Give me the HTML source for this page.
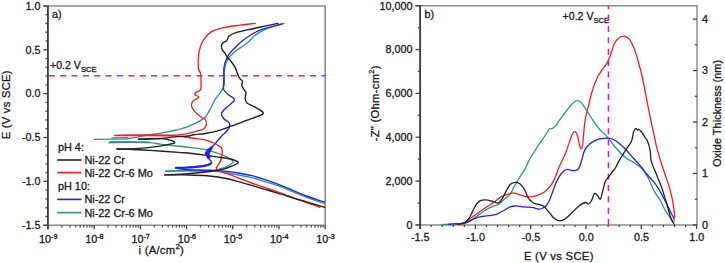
<!DOCTYPE html>
<html><head><meta charset="utf-8"><title>Polarization and impedance plots</title>
<style>
html,body{margin:0;padding:0;background:#fff;}
body{width:725px;height:263px;overflow:hidden;}
svg{display:block;}
svg text{font-family:"Liberation Sans", sans-serif;fill:#1a1a1a;stroke:#1a1a1a;stroke-width:0.3px;}
</style></head>
<body>
<svg width="725" height="263" viewBox="0 0 725 263">
<rect width="725" height="263" fill="#fff"/>
<line x1="43.30" y1="5.90" x2="325.70" y2="5.90" stroke="#8c8c8c" stroke-width="1.5" />
<line x1="325.20" y1="5.90" x2="325.20" y2="225.28" stroke="#8c8c8c" stroke-width="1.6" />
<line x1="43.30" y1="225.28" x2="325.70" y2="225.28" stroke="#8c8c8c" stroke-width="1.5" />
<line x1="43.30" y1="225.28" x2="47.90" y2="225.28" stroke="#404040" stroke-width="1.3" />
<line x1="45.60" y1="216.50" x2="47.90" y2="216.50" stroke="#404040" stroke-width="1.3" />
<line x1="45.60" y1="207.73" x2="47.90" y2="207.73" stroke="#404040" stroke-width="1.3" />
<line x1="45.60" y1="198.95" x2="47.90" y2="198.95" stroke="#404040" stroke-width="1.3" />
<line x1="45.60" y1="190.18" x2="47.90" y2="190.18" stroke="#404040" stroke-width="1.3" />
<line x1="43.30" y1="181.40" x2="47.90" y2="181.40" stroke="#404040" stroke-width="1.3" />
<line x1="45.60" y1="172.62" x2="47.90" y2="172.62" stroke="#404040" stroke-width="1.3" />
<line x1="45.60" y1="163.85" x2="47.90" y2="163.85" stroke="#404040" stroke-width="1.3" />
<line x1="45.60" y1="155.07" x2="47.90" y2="155.07" stroke="#404040" stroke-width="1.3" />
<line x1="45.60" y1="146.30" x2="47.90" y2="146.30" stroke="#404040" stroke-width="1.3" />
<line x1="43.30" y1="137.53" x2="47.90" y2="137.53" stroke="#404040" stroke-width="1.3" />
<line x1="45.60" y1="128.75" x2="47.90" y2="128.75" stroke="#404040" stroke-width="1.3" />
<line x1="45.60" y1="119.98" x2="47.90" y2="119.98" stroke="#404040" stroke-width="1.3" />
<line x1="45.60" y1="111.20" x2="47.90" y2="111.20" stroke="#404040" stroke-width="1.3" />
<line x1="45.60" y1="102.43" x2="47.90" y2="102.43" stroke="#404040" stroke-width="1.3" />
<line x1="43.30" y1="93.65" x2="47.90" y2="93.65" stroke="#404040" stroke-width="1.3" />
<line x1="45.60" y1="84.88" x2="47.90" y2="84.88" stroke="#404040" stroke-width="1.3" />
<line x1="45.60" y1="76.10" x2="47.90" y2="76.10" stroke="#404040" stroke-width="1.3" />
<line x1="45.60" y1="67.33" x2="47.90" y2="67.33" stroke="#404040" stroke-width="1.3" />
<line x1="45.60" y1="58.55" x2="47.90" y2="58.55" stroke="#404040" stroke-width="1.3" />
<line x1="43.30" y1="49.78" x2="47.90" y2="49.78" stroke="#404040" stroke-width="1.3" />
<line x1="45.60" y1="41.00" x2="47.90" y2="41.00" stroke="#404040" stroke-width="1.3" />
<line x1="45.60" y1="32.23" x2="47.90" y2="32.23" stroke="#404040" stroke-width="1.3" />
<line x1="45.60" y1="23.45" x2="47.90" y2="23.45" stroke="#404040" stroke-width="1.3" />
<line x1="45.60" y1="14.67" x2="47.90" y2="14.67" stroke="#404040" stroke-width="1.3" />
<line x1="43.30" y1="5.90" x2="47.90" y2="5.90" stroke="#404040" stroke-width="1.3" />
<line x1="47.90" y1="225.28" x2="47.90" y2="229.28" stroke="#404040" stroke-width="1.3" />
<line x1="61.81" y1="225.28" x2="61.81" y2="227.47" stroke="#404040" stroke-width="1.2" />
<line x1="69.95" y1="225.28" x2="69.95" y2="227.47" stroke="#404040" stroke-width="1.2" />
<line x1="75.73" y1="225.28" x2="75.73" y2="227.47" stroke="#404040" stroke-width="1.2" />
<line x1="80.20" y1="225.28" x2="80.20" y2="227.47" stroke="#404040" stroke-width="1.2" />
<line x1="83.86" y1="225.28" x2="83.86" y2="227.47" stroke="#404040" stroke-width="1.2" />
<line x1="86.96" y1="225.28" x2="86.96" y2="227.47" stroke="#404040" stroke-width="1.2" />
<line x1="89.64" y1="225.28" x2="89.64" y2="227.47" stroke="#404040" stroke-width="1.2" />
<line x1="92.00" y1="225.28" x2="92.00" y2="227.47" stroke="#404040" stroke-width="1.2" />
<line x1="94.12" y1="225.28" x2="94.12" y2="229.28" stroke="#404040" stroke-width="1.3" />
<line x1="108.03" y1="225.28" x2="108.03" y2="227.47" stroke="#404040" stroke-width="1.2" />
<line x1="116.17" y1="225.28" x2="116.17" y2="227.47" stroke="#404040" stroke-width="1.2" />
<line x1="121.94" y1="225.28" x2="121.94" y2="227.47" stroke="#404040" stroke-width="1.2" />
<line x1="126.42" y1="225.28" x2="126.42" y2="227.47" stroke="#404040" stroke-width="1.2" />
<line x1="130.08" y1="225.28" x2="130.08" y2="227.47" stroke="#404040" stroke-width="1.2" />
<line x1="133.17" y1="225.28" x2="133.17" y2="227.47" stroke="#404040" stroke-width="1.2" />
<line x1="135.85" y1="225.28" x2="135.85" y2="227.47" stroke="#404040" stroke-width="1.2" />
<line x1="138.22" y1="225.28" x2="138.22" y2="227.47" stroke="#404040" stroke-width="1.2" />
<line x1="140.33" y1="225.28" x2="140.33" y2="229.28" stroke="#404040" stroke-width="1.3" />
<line x1="154.25" y1="225.28" x2="154.25" y2="227.47" stroke="#404040" stroke-width="1.2" />
<line x1="162.38" y1="225.28" x2="162.38" y2="227.47" stroke="#404040" stroke-width="1.2" />
<line x1="168.16" y1="225.28" x2="168.16" y2="227.47" stroke="#404040" stroke-width="1.2" />
<line x1="172.64" y1="225.28" x2="172.64" y2="227.47" stroke="#404040" stroke-width="1.2" />
<line x1="176.30" y1="225.28" x2="176.30" y2="227.47" stroke="#404040" stroke-width="1.2" />
<line x1="179.39" y1="225.28" x2="179.39" y2="227.47" stroke="#404040" stroke-width="1.2" />
<line x1="182.07" y1="225.28" x2="182.07" y2="227.47" stroke="#404040" stroke-width="1.2" />
<line x1="184.44" y1="225.28" x2="184.44" y2="227.47" stroke="#404040" stroke-width="1.2" />
<line x1="186.55" y1="225.28" x2="186.55" y2="229.28" stroke="#404040" stroke-width="1.3" />
<line x1="200.46" y1="225.28" x2="200.46" y2="227.47" stroke="#404040" stroke-width="1.2" />
<line x1="208.60" y1="225.28" x2="208.60" y2="227.47" stroke="#404040" stroke-width="1.2" />
<line x1="214.38" y1="225.28" x2="214.38" y2="227.47" stroke="#404040" stroke-width="1.2" />
<line x1="218.85" y1="225.28" x2="218.85" y2="227.47" stroke="#404040" stroke-width="1.2" />
<line x1="222.51" y1="225.28" x2="222.51" y2="227.47" stroke="#404040" stroke-width="1.2" />
<line x1="225.61" y1="225.28" x2="225.61" y2="227.47" stroke="#404040" stroke-width="1.2" />
<line x1="228.29" y1="225.28" x2="228.29" y2="227.47" stroke="#404040" stroke-width="1.2" />
<line x1="230.65" y1="225.28" x2="230.65" y2="227.47" stroke="#404040" stroke-width="1.2" />
<line x1="232.77" y1="225.28" x2="232.77" y2="229.28" stroke="#404040" stroke-width="1.3" />
<line x1="246.68" y1="225.28" x2="246.68" y2="227.47" stroke="#404040" stroke-width="1.2" />
<line x1="254.82" y1="225.28" x2="254.82" y2="227.47" stroke="#404040" stroke-width="1.2" />
<line x1="260.59" y1="225.28" x2="260.59" y2="227.47" stroke="#404040" stroke-width="1.2" />
<line x1="265.07" y1="225.28" x2="265.07" y2="227.47" stroke="#404040" stroke-width="1.2" />
<line x1="268.73" y1="225.28" x2="268.73" y2="227.47" stroke="#404040" stroke-width="1.2" />
<line x1="271.82" y1="225.28" x2="271.82" y2="227.47" stroke="#404040" stroke-width="1.2" />
<line x1="274.50" y1="225.28" x2="274.50" y2="227.47" stroke="#404040" stroke-width="1.2" />
<line x1="276.87" y1="225.28" x2="276.87" y2="227.47" stroke="#404040" stroke-width="1.2" />
<line x1="278.98" y1="225.28" x2="278.98" y2="229.28" stroke="#404040" stroke-width="1.3" />
<line x1="292.90" y1="225.28" x2="292.90" y2="227.47" stroke="#404040" stroke-width="1.2" />
<line x1="301.03" y1="225.28" x2="301.03" y2="227.47" stroke="#404040" stroke-width="1.2" />
<line x1="306.81" y1="225.28" x2="306.81" y2="227.47" stroke="#404040" stroke-width="1.2" />
<line x1="311.29" y1="225.28" x2="311.29" y2="227.47" stroke="#404040" stroke-width="1.2" />
<line x1="314.95" y1="225.28" x2="314.95" y2="227.47" stroke="#404040" stroke-width="1.2" />
<line x1="318.04" y1="225.28" x2="318.04" y2="227.47" stroke="#404040" stroke-width="1.2" />
<line x1="320.72" y1="225.28" x2="320.72" y2="227.47" stroke="#404040" stroke-width="1.2" />
<line x1="323.09" y1="225.28" x2="323.09" y2="227.47" stroke="#404040" stroke-width="1.2" />
<line x1="325.20" y1="225.28" x2="325.20" y2="229.28" stroke="#404040" stroke-width="1.3" />
<line x1="47.90" y1="5.20" x2="47.90" y2="229.28" stroke="#404040" stroke-width="1.9" />
<text x="40.60" y="9.70" font-size="10.8" text-anchor="end" >1.0</text>
<text x="40.60" y="53.58" font-size="10.8" text-anchor="end" >0.5</text>
<text x="40.60" y="97.45" font-size="10.8" text-anchor="end" >0.0</text>
<text x="40.60" y="141.33" font-size="10.8" text-anchor="end" >-0.5</text>
<text x="40.60" y="185.20" font-size="10.8" text-anchor="end" >-1.0</text>
<text x="40.60" y="229.08" font-size="10.8" text-anchor="end" >-1.5</text>
<text x="48.20" y="243.3" font-size="10.8" text-anchor="middle">10<tspan font-size="7.2" dy="-4.2">-9</tspan></text>
<text x="94.42" y="243.3" font-size="10.8" text-anchor="middle">10<tspan font-size="7.2" dy="-4.2">-8</tspan></text>
<text x="140.63" y="243.3" font-size="10.8" text-anchor="middle">10<tspan font-size="7.2" dy="-4.2">-7</tspan></text>
<text x="186.85" y="243.3" font-size="10.8" text-anchor="middle">10<tspan font-size="7.2" dy="-4.2">-6</tspan></text>
<text x="233.07" y="243.3" font-size="10.8" text-anchor="middle">10<tspan font-size="7.2" dy="-4.2">-5</tspan></text>
<text x="279.28" y="243.3" font-size="10.8" text-anchor="middle">10<tspan font-size="7.2" dy="-4.2">-4</tspan></text>
<text x="325.50" y="243.3" font-size="10.8" text-anchor="middle">10<tspan font-size="7.2" dy="-4.2">-3</tspan></text>
<text x="161.3" y="254.2" font-size="11.3" letter-spacing="0.25" text-anchor="middle">i (A/cm<tspan font-size="8" dy="-5.3">2</tspan><tspan dy="5.3">)</tspan></text>
<text transform="translate(9.5,104.8) rotate(-90)" font-size="11.2" letter-spacing="0.27" text-anchor="middle">E (V vs SCE)</text>
<text x="52.00" y="17.60" font-size="10.8" text-anchor="start" >a)</text>
<text x="50.0" y="68.9" font-size="10.6">+0.2 V<tspan font-size="7.6" dy="3.3">SCE</tspan></text>
<line x1="48.8" y1="75.7" x2="325.20" y2="75.7" stroke="#ff00ff" stroke-width="1.5" stroke-dasharray="6 5.36"/>
<text x="57.90" y="151.20" font-size="10.9" text-anchor="start" >pH 4:</text>
<text x="84.40" y="164.00" font-size="10.9" text-anchor="start" >Ni-22 Cr</text>
<line x1="57.20" y1="160.00" x2="81.50" y2="160.00" stroke="#202020" stroke-width="1.6" />
<text x="84.40" y="176.60" font-size="10.9" text-anchor="start" >Ni-22 Cr-6 Mo</text>
<line x1="57.20" y1="172.60" x2="81.50" y2="172.60" stroke="#ff1a1a" stroke-width="1.6" />
<text x="57.90" y="190.40" font-size="10.9" text-anchor="start" >pH 10:</text>
<text x="84.40" y="203.40" font-size="10.9" text-anchor="start" >Ni-22 Cr</text>
<line x1="57.20" y1="199.40" x2="81.50" y2="199.40" stroke="#1f1fff" stroke-width="1.6" />
<text x="84.40" y="216.60" font-size="10.9" text-anchor="start" >Ni-22 Cr-6 Mo</text>
<line x1="57.20" y1="212.60" x2="81.50" y2="212.60" stroke="#2e9490" stroke-width="1.6" />
<path d="M324.5,203.9 C323.7,203.6 322.9,203.0 319.9,201.9 C316.9,200.8 311.0,199.0 306.6,197.3 C302.2,195.7 296.9,193.5 293.3,192.0 C289.7,190.5 287.5,189.5 285.0,188.4 C282.5,187.3 281.6,186.7 278.2,185.6 C274.8,184.5 269.3,182.9 264.9,181.6 C260.5,180.3 256.0,178.7 251.6,177.6 C247.2,176.5 242.7,175.8 238.3,175.0 C233.9,174.2 229.1,173.1 225.0,172.5 C220.9,171.9 220.1,171.6 213.9,171.3 C207.7,171.0 195.7,170.8 187.6,170.8 C179.5,170.8 169.2,171.2 165.5,171.3" fill="none" stroke="#2e9490" stroke-width="1.35" stroke-linejoin="round" stroke-linecap="round"/>
<path d="M165.5,171.1 C169.2,171.0 180.5,170.7 187.6,170.6 C194.7,170.5 203.7,170.4 208.3,170.3 C212.9,170.2 212.2,170.7 215.2,170.1 C218.2,169.5 223.4,168.0 226.2,166.9 C228.9,165.8 230.5,164.5 231.7,163.5 C232.8,162.5 233.5,161.9 233.1,161.0 C232.7,160.1 230.2,159.1 229.0,158.3 C227.8,157.5 228.0,157.2 225.9,156.3 C223.8,155.4 220.1,154.0 216.6,152.9 C213.1,151.8 209.4,150.5 205.0,149.6 C200.6,148.7 197.2,148.3 190.0,147.4 C182.8,146.5 168.7,145.2 162.0,144.4 C155.3,143.6 156.3,143.0 150.0,142.7 C143.7,142.3 131.1,142.3 124.2,142.3 C117.3,142.3 111.4,142.8 108.8,142.9" fill="none" stroke="#2e9490" stroke-width="1.35" stroke-linejoin="round" stroke-linecap="round"/>
<path d="M94.3,139.3 C97.4,139.3 107.2,139.3 112.8,139.2 C118.3,139.1 122.2,139.4 127.6,138.8 C133.0,138.2 141.3,136.2 145.0,135.5 C148.7,134.8 146.2,135.4 150.0,134.8 C153.8,134.2 162.4,132.9 167.8,131.8 C173.2,130.7 178.6,129.6 182.6,128.4 C186.6,127.2 189.1,126.1 191.9,124.9 C194.7,123.7 197.3,122.4 199.5,121.1 C201.7,119.8 203.4,119.2 205.2,117.3 C206.9,115.4 208.4,112.5 210.0,109.7 C211.6,106.9 213.0,103.1 214.7,100.2 C216.4,97.3 219.0,94.6 220.4,92.6 C221.8,90.5 222.7,89.2 223.3,87.9 C223.9,86.6 224.0,86.2 224.2,85.0 C224.4,83.8 224.3,82.8 224.3,80.5 C224.3,78.2 224.1,74.1 224.3,71.3 C224.6,68.5 225.2,65.6 225.8,63.7 C226.4,61.8 227.1,61.1 227.6,60.0 C228.1,58.9 228.1,58.5 229.1,57.3 C230.1,56.1 231.9,54.2 233.7,52.7 C235.5,51.2 237.5,49.8 239.8,48.1 C242.1,46.5 245.1,44.7 247.4,42.8 C249.7,40.9 251.4,38.5 253.5,36.7 C255.6,34.9 257.2,33.8 260.0,32.2 C262.8,30.6 266.5,28.7 270.5,27.2 C274.5,25.7 281.9,24.0 284.2,23.4" fill="none" stroke="#2e9490" stroke-width="1.35" stroke-linejoin="round" stroke-linecap="round"/>
<path d="M324.5,201.9 C323.7,201.7 322.9,201.6 319.9,200.6 C316.9,199.6 311.0,197.7 306.6,196.0 C302.2,194.3 296.9,192.1 293.3,190.6 C289.7,189.1 287.5,188.1 285.0,187.0 C282.5,185.9 281.6,185.5 278.2,184.3 C274.8,183.1 269.3,181.1 264.9,179.6 C260.5,178.1 256.0,176.7 251.6,175.6 C247.2,174.5 242.7,173.8 238.3,173.0 C233.9,172.2 229.1,171.5 225.0,171.1 C220.9,170.7 219.2,170.7 213.9,170.5 C208.6,170.3 197.8,170.1 193.1,169.9 C188.4,169.7 188.5,169.7 186.0,169.5 C183.5,169.3 179.7,168.8 178.0,168.5 C176.3,168.2 176.1,167.9 175.7,167.8" fill="none" stroke="#1f1fff" stroke-width="1.35" stroke-linejoin="round" stroke-linecap="round"/>
<path d="M175.7,167.8 C177.7,167.8 183.3,167.8 187.6,167.5 C191.9,167.2 197.9,166.6 201.4,166.2 C204.9,165.8 206.6,165.3 208.3,164.8 C210.0,164.3 211.1,163.7 211.5,163.0 C211.9,162.3 211.0,161.3 210.5,160.5 C210.0,159.7 209.3,159.5 208.6,158.3 C207.8,157.2 206.0,155.1 206.0,153.6 C206.0,152.1 207.3,151.0 208.6,149.6 C209.9,148.2 212.3,146.6 213.9,145.0 C215.5,143.4 216.5,142.0 217.9,140.3 C219.3,138.6 221.3,136.3 222.6,135.0 C223.9,133.7 224.4,133.8 225.5,132.5 C226.6,131.2 228.6,129.1 229.2,127.5 C229.8,125.9 230.1,124.5 229.2,123.0 C228.3,121.5 225.2,120.4 223.9,118.8 C222.6,117.2 221.1,115.3 221.5,113.5 C221.9,111.7 224.1,109.8 226.1,107.8 C228.1,105.8 232.4,102.8 233.7,101.2 C235.0,99.6 234.6,99.4 233.7,98.3 C232.8,97.2 229.7,95.9 228.0,94.5 C226.3,93.1 224.6,91.4 223.8,89.8 C223.1,88.2 223.5,86.5 223.5,85.0 C223.5,83.5 223.8,83.0 223.8,80.5 C223.9,78.0 223.7,72.5 223.8,69.8 C224.0,67.0 224.3,65.6 224.7,64.0 C225.1,62.4 225.4,61.6 226.1,60.0 C226.8,58.4 227.6,56.3 229.1,54.2 C230.6,52.1 232.9,49.7 235.2,47.4 C237.5,45.1 240.3,42.5 242.8,40.5 C245.3,38.5 248.2,36.6 250.4,35.2 C252.6,33.8 253.9,33.0 256.0,32.0 C258.1,31.0 258.5,30.5 262.8,29.2 C267.1,27.9 278.7,24.9 281.9,24.0" fill="none" stroke="#1f1fff" stroke-width="1.35" stroke-linejoin="round" stroke-linecap="round"/>
<path d="M319.9,207.3 C317.7,206.5 311.0,204.2 306.6,202.6 C302.2,201.0 296.9,198.9 293.3,197.6 C289.7,196.3 287.5,195.5 285.0,194.6 C282.5,193.7 281.6,193.4 278.2,192.2 C274.8,191.0 269.3,189.1 264.9,187.6 C260.5,186.1 256.0,184.6 251.6,183.0 C247.2,181.4 242.1,179.2 238.3,177.8 C234.5,176.4 231.7,175.3 229.0,174.4 C226.3,173.5 223.9,172.9 222.0,172.2 C220.1,171.5 218.4,170.9 217.5,170.2 C216.6,169.5 216.0,168.9 216.3,167.8 C216.6,166.7 218.5,164.8 219.3,163.4 C220.1,162.0 220.5,161.3 221.0,159.5 C221.5,157.7 222.1,154.4 222.2,152.5 C222.3,150.6 222.0,149.0 221.6,148.0 C221.2,147.0 221.2,147.3 219.9,146.5 C218.6,145.7 216.4,144.1 213.9,143.0 C211.4,141.9 207.9,140.5 205.0,139.8 C202.1,139.1 199.7,139.2 196.3,138.7 C193.0,138.2 188.7,137.5 184.9,137.0 C181.1,136.5 180.2,136.1 173.5,135.8 C166.8,135.6 154.8,135.5 145.0,135.5 C135.2,135.5 119.9,135.6 114.9,135.6" fill="none" stroke="#ff1a1a" stroke-width="1.35" stroke-linejoin="round" stroke-linecap="round"/>
<path d="M114.9,135.4 C119.9,135.3 135.2,135.0 145.0,135.0 C154.8,135.0 166.8,135.3 173.5,135.2 C180.2,135.0 181.1,134.8 184.9,134.1 C188.7,133.4 193.1,132.2 196.3,131.3 C199.5,130.4 202.4,129.9 204.1,128.7 C205.8,127.5 206.3,125.8 206.4,124.1 C206.5,122.4 205.7,119.9 204.9,118.8 C204.1,117.7 203.1,118.5 201.4,117.3 C199.7,116.1 196.5,113.5 194.8,111.6 C193.2,109.7 191.8,107.6 191.5,105.9 C191.2,104.2 191.9,102.5 192.9,101.2 C193.9,99.9 196.7,99.0 197.6,98.3 C198.5,97.6 199.1,97.4 198.6,96.8 C198.1,96.2 195.3,95.2 194.8,94.5 C194.3,93.8 194.8,93.4 195.7,92.6 C196.6,91.8 199.6,91.1 200.5,89.8 C201.4,88.5 200.9,86.6 201.0,85.0 C201.1,83.4 201.1,81.9 201.0,80.0 C200.9,78.1 201.1,75.5 200.7,73.6 C200.3,71.6 198.8,71.4 198.4,68.3 C198.1,65.2 198.2,58.6 198.6,55.0 C198.9,51.4 199.6,49.1 200.5,46.4 C201.4,43.7 202.6,41.2 204.3,38.8 C206.0,36.4 207.9,33.9 210.9,32.1 C213.9,30.3 217.9,29.0 222.3,27.9 C226.7,26.8 234.6,25.9 237.5,25.5 C240.4,25.1 237.1,25.6 240.0,25.2 C242.9,24.8 252.7,23.6 255.2,23.3" fill="none" stroke="#ff1a1a" stroke-width="1.35" stroke-linejoin="round" stroke-linecap="round"/>
<path d="M324.5,207.3 C323.7,207.1 322.9,206.8 319.9,205.9 C316.9,205.0 311.0,203.2 306.6,201.9 C302.2,200.6 296.9,199.3 293.3,198.2 C289.7,197.1 287.5,196.1 285.0,195.3 C282.5,194.5 281.6,194.3 278.2,193.3 C274.8,192.3 269.3,190.6 264.9,189.3 C260.5,188.0 256.0,186.7 251.6,185.4 C247.2,184.1 242.7,182.8 238.3,181.6 C233.9,180.4 230.2,179.3 225.0,178.3 C219.8,177.3 213.8,176.4 206.9,175.8 C200.0,175.2 190.4,175.1 183.4,174.9 C176.4,174.8 167.8,174.9 164.7,174.9" fill="none" stroke="#202020" stroke-width="1.4" stroke-linejoin="round" stroke-linecap="round"/>
<path d="M164.8,174.9 C168.6,174.7 180.0,174.4 187.6,173.8 C195.2,173.2 204.4,172.2 210.2,171.5 C216.0,170.8 218.6,170.4 222.4,169.4 C226.2,168.4 230.5,166.7 233.1,165.6 C235.7,164.5 237.7,163.8 238.2,163.0 C238.7,162.2 237.5,161.5 236.0,160.8 C234.5,160.1 232.2,159.5 229.0,158.8 C225.8,158.2 220.9,157.6 216.6,156.9 C212.3,156.2 207.7,155.5 203.3,154.9 C198.9,154.3 194.1,153.6 190.0,153.2 C185.9,152.8 185.2,152.9 178.5,152.4 C171.8,151.9 158.1,150.9 150.0,150.4 C141.9,149.9 135.5,149.5 130.0,149.3 C124.5,149.1 119.2,149.1 117.0,149.0" fill="none" stroke="#202020" stroke-width="1.4" stroke-linejoin="round" stroke-linecap="round"/>
<path d="M117.0,149.0 C120.0,148.9 128.4,149.0 135.0,148.6 C141.6,148.2 150.9,147.3 156.4,146.6 C161.9,145.9 164.8,145.2 167.8,144.6 C170.9,143.9 174.1,143.4 174.7,142.7 C175.3,142.0 173.3,141.1 171.2,140.4 C169.1,139.7 165.6,138.9 162.1,138.6 C158.6,138.3 153.9,138.6 150.0,138.7 C146.1,138.8 140.4,139.2 138.5,139.3" fill="none" stroke="#202020" stroke-width="1.4" stroke-linejoin="round" stroke-linecap="round"/>
<path d="M138.5,139.3 C140.4,139.2 146.1,139.1 150.0,138.9 C153.9,138.8 157.9,138.7 162.0,138.4 C166.1,138.1 170.3,137.3 174.7,136.9 C179.1,136.5 185.1,136.3 188.3,136.0 C191.5,135.7 191.0,135.2 193.8,134.8 C196.6,134.4 201.1,134.2 205.2,133.5 C209.3,132.8 214.1,131.9 218.5,130.6 C222.9,129.3 227.1,127.6 231.8,125.9 C236.6,124.2 242.2,122.0 247.0,120.2 C251.8,118.5 257.6,116.5 260.3,115.4 C263.0,114.3 262.9,114.1 263.2,113.5 C263.5,112.9 263.6,112.7 262.2,111.6 C260.8,110.5 257.1,108.3 254.6,106.9 C252.1,105.5 248.6,104.4 247.0,103.0 C245.4,101.6 245.3,100.0 245.2,98.3 C245.0,96.6 246.3,94.0 246.1,92.6 C245.9,91.2 244.9,91.0 244.2,89.8 C243.5,88.6 242.1,86.9 241.8,85.5 C241.5,84.1 242.9,82.4 242.5,81.2 C242.1,80.0 240.4,79.6 239.5,78.2 C238.6,76.8 238.0,74.7 237.2,72.8 C236.4,70.9 235.9,68.7 234.9,66.8 C233.9,64.9 232.2,62.9 231.1,61.5 C230.0,60.1 229.1,59.3 228.4,58.5 C227.7,57.7 227.4,57.5 226.8,56.5 C226.2,55.5 225.3,53.8 224.6,52.7 C223.8,51.6 222.8,50.8 222.3,49.7 C221.8,48.6 221.4,47.0 221.5,45.9 C221.6,44.8 222.2,43.6 223.0,42.8 C223.8,42.0 225.3,41.9 226.1,41.3 C226.9,40.7 227.1,39.9 227.6,39.0 C228.1,38.1 227.8,37.0 229.1,36.0 C230.4,35.0 232.1,33.9 235.2,32.9 C238.2,31.9 243.6,30.8 247.4,29.9 C251.2,29.0 253.2,28.6 258.3,27.5 C263.4,26.4 274.6,24.1 277.8,23.4" fill="none" stroke="#202020" stroke-width="1.4" stroke-linejoin="round" stroke-linecap="round"/>
<polyline points="110.0,141.6 128.0,141.7 150.0,142.1" fill="none" stroke="#2e9490" stroke-width="1.2" stroke-linejoin="round" stroke-linecap="round"/>
<polyline points="112.0,137.9 128.0,137.6" fill="none" stroke="#2e9490" stroke-width="1.2" stroke-linejoin="round" stroke-linecap="round"/>
<path d="M214,145 L207,149.2 L204.6,153.5 L207.5,158.8 L210.8,158 L209.6,153.5 L212,149.5 Z" fill="#1f1fff"/>
<path d="M176.0,167.9 C177.9,167.8 183.4,167.8 187.6,167.5 C191.8,167.2 197.9,166.7 201.4,166.3 C204.9,165.9 206.7,165.4 208.3,164.9 C210.0,164.4 210.8,163.4 211.3,163.1" fill="none" stroke="#1f1fff" stroke-width="2.2" stroke-linejoin="round" stroke-linecap="round"/>
<line x1="415.50" y1="5.70" x2="697.50" y2="5.70" stroke="#8c8c8c" stroke-width="1.5" />
<line x1="697.00" y1="5.70" x2="697.00" y2="224.90" stroke="#8c8c8c" stroke-width="1.45" />
<line x1="415.50" y1="224.90" x2="697.50" y2="224.90" stroke="#8c8c8c" stroke-width="1.5" />
<line x1="415.50" y1="224.90" x2="420.10" y2="224.90" stroke="#404040" stroke-width="1.3" />
<line x1="417.80" y1="202.98" x2="420.10" y2="202.98" stroke="#404040" stroke-width="1.3" />
<line x1="415.50" y1="181.06" x2="420.10" y2="181.06" stroke="#404040" stroke-width="1.3" />
<line x1="417.80" y1="159.14" x2="420.10" y2="159.14" stroke="#404040" stroke-width="1.3" />
<line x1="415.50" y1="137.22" x2="420.10" y2="137.22" stroke="#404040" stroke-width="1.3" />
<line x1="417.80" y1="115.30" x2="420.10" y2="115.30" stroke="#404040" stroke-width="1.3" />
<line x1="415.50" y1="93.38" x2="420.10" y2="93.38" stroke="#404040" stroke-width="1.3" />
<line x1="417.80" y1="71.46" x2="420.10" y2="71.46" stroke="#404040" stroke-width="1.3" />
<line x1="415.50" y1="49.54" x2="420.10" y2="49.54" stroke="#404040" stroke-width="1.3" />
<line x1="417.80" y1="27.62" x2="420.10" y2="27.62" stroke="#404040" stroke-width="1.3" />
<line x1="415.50" y1="5.70" x2="420.10" y2="5.70" stroke="#404040" stroke-width="1.3" />
<line x1="420.10" y1="224.90" x2="420.10" y2="228.90" stroke="#404040" stroke-width="1.3" />
<line x1="431.16" y1="224.90" x2="431.16" y2="227.10" stroke="#404040" stroke-width="1.2" />
<line x1="442.22" y1="224.90" x2="442.22" y2="227.10" stroke="#404040" stroke-width="1.2" />
<line x1="453.28" y1="224.90" x2="453.28" y2="227.10" stroke="#404040" stroke-width="1.2" />
<line x1="464.34" y1="224.90" x2="464.34" y2="227.10" stroke="#404040" stroke-width="1.2" />
<line x1="475.40" y1="224.90" x2="475.40" y2="228.90" stroke="#404040" stroke-width="1.3" />
<line x1="486.46" y1="224.90" x2="486.46" y2="227.10" stroke="#404040" stroke-width="1.2" />
<line x1="497.52" y1="224.90" x2="497.52" y2="227.10" stroke="#404040" stroke-width="1.2" />
<line x1="508.58" y1="224.90" x2="508.58" y2="227.10" stroke="#404040" stroke-width="1.2" />
<line x1="519.64" y1="224.90" x2="519.64" y2="227.10" stroke="#404040" stroke-width="1.2" />
<line x1="530.70" y1="224.90" x2="530.70" y2="228.90" stroke="#404040" stroke-width="1.3" />
<line x1="541.76" y1="224.90" x2="541.76" y2="227.10" stroke="#404040" stroke-width="1.2" />
<line x1="552.82" y1="224.90" x2="552.82" y2="227.10" stroke="#404040" stroke-width="1.2" />
<line x1="563.88" y1="224.90" x2="563.88" y2="227.10" stroke="#404040" stroke-width="1.2" />
<line x1="574.94" y1="224.90" x2="574.94" y2="227.10" stroke="#404040" stroke-width="1.2" />
<line x1="586.00" y1="224.90" x2="586.00" y2="228.90" stroke="#404040" stroke-width="1.3" />
<line x1="597.06" y1="224.90" x2="597.06" y2="227.10" stroke="#404040" stroke-width="1.2" />
<line x1="608.12" y1="224.90" x2="608.12" y2="227.10" stroke="#404040" stroke-width="1.2" />
<line x1="619.18" y1="224.90" x2="619.18" y2="227.10" stroke="#404040" stroke-width="1.2" />
<line x1="630.24" y1="224.90" x2="630.24" y2="227.10" stroke="#404040" stroke-width="1.2" />
<line x1="641.30" y1="224.90" x2="641.30" y2="228.90" stroke="#404040" stroke-width="1.3" />
<line x1="652.36" y1="224.90" x2="652.36" y2="227.10" stroke="#404040" stroke-width="1.2" />
<line x1="663.42" y1="224.90" x2="663.42" y2="227.10" stroke="#404040" stroke-width="1.2" />
<line x1="674.48" y1="224.90" x2="674.48" y2="227.10" stroke="#404040" stroke-width="1.2" />
<line x1="685.54" y1="224.90" x2="685.54" y2="227.10" stroke="#404040" stroke-width="1.2" />
<line x1="696.60" y1="224.90" x2="696.60" y2="228.90" stroke="#404040" stroke-width="1.3" />
<line x1="693.00" y1="224.90" x2="697.00" y2="224.90" stroke="#404040" stroke-width="1.3" />
<line x1="694.80" y1="199.18" x2="697.00" y2="199.18" stroke="#404040" stroke-width="1.2" />
<line x1="693.00" y1="173.45" x2="697.00" y2="173.45" stroke="#404040" stroke-width="1.3" />
<line x1="694.80" y1="147.72" x2="697.00" y2="147.72" stroke="#404040" stroke-width="1.2" />
<line x1="693.00" y1="122.00" x2="697.00" y2="122.00" stroke="#404040" stroke-width="1.3" />
<line x1="694.80" y1="96.28" x2="697.00" y2="96.28" stroke="#404040" stroke-width="1.2" />
<line x1="693.00" y1="70.55" x2="697.00" y2="70.55" stroke="#404040" stroke-width="1.3" />
<line x1="694.80" y1="44.82" x2="697.00" y2="44.82" stroke="#404040" stroke-width="1.2" />
<line x1="693.00" y1="19.10" x2="697.00" y2="19.10" stroke="#404040" stroke-width="1.3" />
<line x1="420.10" y1="5.00" x2="420.10" y2="228.90" stroke="#404040" stroke-width="1.9" />
<text x="412.60" y="228.70" font-size="10.8" text-anchor="end" >0</text>
<text x="412.60" y="184.86" font-size="10.8" text-anchor="end" >2,000</text>
<text x="412.60" y="141.02" font-size="10.8" text-anchor="end" >4,000</text>
<text x="412.60" y="97.18" font-size="10.8" text-anchor="end" >6,000</text>
<text x="412.60" y="53.34" font-size="10.8" text-anchor="end" >8,000</text>
<text x="412.60" y="9.50" font-size="10.8" text-anchor="end" >10,000</text>
<text x="420.30" y="241.30" font-size="10.8" text-anchor="middle" >-1.5</text>
<text x="475.60" y="241.30" font-size="10.8" text-anchor="middle" >-1.0</text>
<text x="530.90" y="241.30" font-size="10.8" text-anchor="middle" >-0.5</text>
<text x="586.20" y="241.30" font-size="10.8" text-anchor="middle" >0.0</text>
<text x="641.50" y="241.30" font-size="10.8" text-anchor="middle" >0.5</text>
<text x="696.80" y="241.30" font-size="10.8" text-anchor="middle" >1.0</text>
<text x="702.10" y="228.70" font-size="10.8" text-anchor="start" >0</text>
<text x="702.10" y="177.25" font-size="10.8" text-anchor="start" >1</text>
<text x="702.10" y="125.80" font-size="10.8" text-anchor="start" >2</text>
<text x="702.10" y="74.35" font-size="10.8" text-anchor="start" >3</text>
<text x="702.10" y="22.90" font-size="10.8" text-anchor="start" >4</text>
<text x="558.8" y="260.1" font-size="11.3" letter-spacing="0.27" text-anchor="middle">E (V vs SCE)</text>
<text transform="translate(378.5,103.3) rotate(-90)" font-size="11.2" letter-spacing="0.3" text-anchor="middle">-Z" (Ohm-cm<tspan font-size="7.4" dy="-4.3">2</tspan><tspan dy="4.3">)</tspan></text>
<text transform="translate(721.2,113.3) rotate(-90)" font-size="10.8" letter-spacing="0.1" text-anchor="middle">Oxide Thickness (nm)</text>
<text x="424.60" y="17.60" font-size="10.8" text-anchor="start" >b)</text>
<text x="562.6" y="19.6" font-size="10.6">+0.2 V<tspan font-size="7.6" dy="3.3">SCE</tspan></text>
<line x1="608.42" y1="5.70" x2="608.42" y2="224.90" stroke="#ff00ff" stroke-width="1.5" stroke-dasharray="6 5.36" stroke-dashoffset="2.46"/>
<path d="M441.8,224.4 C444.8,224.4 456.1,224.3 460.0,224.2 C463.9,224.0 462.6,224.6 465.1,223.5 C467.6,222.4 472.1,219.6 475.2,217.5 C478.3,215.4 480.8,212.9 483.9,211.0 C487.0,209.1 491.6,207.0 494.0,205.9 C496.4,204.8 497.4,204.9 498.4,204.5 C499.4,204.1 498.8,204.4 500.0,203.3 C501.2,202.2 503.9,199.7 505.7,198.1 C507.4,196.5 509.1,195.6 510.5,193.8 C511.9,192.0 512.2,190.0 513.8,187.2 C515.4,184.3 518.2,179.8 520.1,176.7 C522.0,173.6 523.8,171.2 525.3,168.4 C526.8,165.6 527.8,162.6 529.3,159.9 C530.8,157.2 532.4,154.8 534.0,152.3 C535.6,149.8 537.2,147.1 538.8,144.7 C540.4,142.3 542.1,140.1 543.5,138.1 C544.9,136.1 546.3,133.9 547.3,132.4 C548.2,130.9 548.4,129.7 549.2,129.1 C550.0,128.5 551.4,128.8 552.1,128.6 C552.8,128.4 552.7,128.3 553.3,127.8 C553.9,127.3 555.1,126.7 555.9,125.7 C556.7,124.8 556.8,124.0 558.1,122.1 C559.4,120.2 561.9,117.0 563.8,114.5 C565.7,112.0 567.8,109.0 569.5,106.9 C571.2,104.8 572.9,103.1 574.2,102.1 C575.5,101.0 576.0,100.6 577.1,100.6 C578.2,100.6 579.5,100.7 580.9,102.1 C582.3,103.5 584.0,106.4 585.6,108.8 C587.2,111.2 588.6,113.7 590.4,116.4 C592.1,119.1 594.4,122.7 596.1,125.0 C597.8,127.3 598.9,128.6 600.4,130.2 C601.9,131.8 603.7,133.0 605.0,134.4 C606.3,135.8 606.4,136.0 608.4,138.4 C610.4,140.8 613.9,145.7 616.7,148.8 C619.5,151.9 622.3,154.9 625.1,157.2 C627.9,159.5 630.7,160.5 633.5,162.4 C636.3,164.3 639.6,166.4 641.9,168.7 C644.2,171.0 645.0,172.3 647.1,176.0 C649.2,179.7 652.0,187.1 654.2,191.1 C656.4,195.1 658.4,197.0 660.2,200.2 C662.0,203.4 663.4,207.0 665.2,210.2 C667.1,213.4 669.8,217.5 671.3,219.3 C672.8,221.2 673.8,221.0 674.3,221.3" fill="none" stroke="#2e9490" stroke-width="1.3" stroke-linejoin="round" stroke-linecap="round"/>
<path d="M448.0,224.3 C448.7,224.2 450.7,224.2 452.0,224.0 C453.3,223.8 454.7,223.5 456.0,223.4 C457.3,223.3 458.8,223.7 460.0,223.7 C461.2,223.7 461.9,223.6 463.0,223.4 C464.1,223.2 464.8,223.2 466.6,222.5 C468.4,221.8 471.4,219.9 473.8,218.9 C476.2,217.9 478.6,217.2 481.0,216.7 C483.4,216.2 485.9,216.0 488.3,215.7 C490.7,215.3 493.6,215.1 495.5,214.6 C497.4,214.1 498.4,213.3 500.0,212.5 C501.6,211.7 503.2,210.9 504.8,210.0 C506.4,209.1 507.9,207.8 509.5,207.1 C511.1,206.4 512.7,206.2 514.3,206.0 C515.9,205.8 517.4,206.0 519.0,206.2 C520.6,206.3 522.2,206.8 523.8,206.9 C525.4,207.1 526.9,207.0 528.5,207.1 C530.1,207.2 531.7,207.3 533.3,207.6 C534.9,207.9 536.6,208.8 538.0,209.0 C539.4,209.2 540.5,209.0 541.8,208.5 C543.1,208.0 544.3,207.5 545.6,206.2 C546.9,204.9 548.2,203.0 549.4,200.5 C550.6,198.0 551.7,194.3 552.8,191.4 C553.9,188.5 554.8,185.4 555.9,183.0 C557.0,180.6 557.9,178.7 559.1,176.8 C560.3,174.9 561.9,172.7 563.3,171.5 C564.7,170.3 566.1,169.6 567.5,169.4 C568.9,169.2 570.4,170.3 571.6,170.5 C572.9,170.7 573.9,170.8 575.0,170.5 C576.1,170.2 577.4,170.6 578.5,168.9 C579.6,167.2 580.6,163.6 581.6,160.5 C582.6,157.4 583.3,152.9 584.7,150.1 C586.1,147.3 587.9,145.6 590.0,143.8 C592.1,142.1 594.9,140.5 597.3,139.6 C599.7,138.7 602.0,138.6 604.2,138.4 C606.4,138.2 608.4,137.9 610.5,138.4 C612.6,138.9 614.3,139.8 616.7,141.5 C619.1,143.2 622.3,146.0 625.1,148.8 C627.9,151.6 630.7,155.2 633.5,158.3 C636.3,161.5 639.6,165.0 641.9,167.7 C644.2,170.4 644.7,171.6 647.1,174.5 C649.5,177.4 653.5,181.3 656.2,185.1 C658.9,188.9 661.0,193.1 663.2,197.1 C665.4,201.1 667.4,205.5 669.3,209.2 C671.1,212.9 673.5,217.6 674.3,219.3" fill="none" stroke="#1f1fff" stroke-width="1.3" stroke-linejoin="round" stroke-linecap="round"/>
<path d="M457.0,224.3 C457.5,224.2 458.9,224.1 460.0,223.9 C461.1,223.7 461.4,224.4 463.7,223.1 C466.0,221.8 470.4,218.4 473.8,216.0 C477.2,213.6 480.5,211.1 483.9,208.8 C487.3,206.5 491.3,204.2 494.0,202.3 C496.7,200.4 498.2,198.8 500.0,197.6 C501.8,196.4 503.2,195.8 504.8,195.2 C506.4,194.6 508.1,194.2 509.5,193.8 C510.9,193.4 512.0,192.9 513.3,192.9 C514.6,192.9 515.8,193.4 517.1,193.8 C518.4,194.2 519.5,194.7 520.9,195.2 C522.3,195.7 524.1,196.4 525.7,196.7 C527.3,197.0 528.7,196.9 530.4,196.8 C532.1,196.7 534.4,196.4 536.1,195.9 C537.9,195.4 539.3,194.6 540.9,193.8 C542.5,193.0 543.8,192.6 545.6,191.0 C547.4,189.4 550.1,186.7 551.8,184.1 C553.5,181.5 554.6,178.6 555.9,175.7 C557.1,172.8 557.6,170.4 559.3,166.5 C561.0,162.6 563.8,157.5 565.9,152.2 C568.0,146.8 570.6,137.8 572.2,134.4 C573.8,131.0 574.4,131.5 575.3,131.7 C576.2,131.9 576.7,133.3 577.4,135.5 C578.1,137.7 578.9,142.7 579.5,144.9 C580.1,147.2 580.5,149.0 581.0,149.0 C581.5,149.0 582.1,147.5 582.6,144.9 C583.1,142.3 583.3,137.6 583.7,133.4 C584.1,129.2 584.3,124.7 585.1,120.0 C585.9,115.3 587.5,110.1 588.6,105.4 C589.8,100.7 590.6,96.3 592.0,91.7 C593.4,87.1 595.4,81.7 597.1,78.0 C598.8,74.3 600.6,72.0 602.3,69.4 C604.0,66.8 606.0,65.2 607.4,62.6 C608.8,60.0 609.8,57.1 610.9,54.0 C612.0,50.9 612.9,46.5 614.3,43.7 C615.7,41.0 617.7,38.8 619.4,37.5 C621.1,36.2 622.9,35.9 624.6,36.2 C626.3,36.6 628.0,37.2 629.7,39.6 C631.4,42.0 633.4,46.5 634.9,50.6 C636.4,54.7 637.9,60.2 639.0,64.3 C640.1,68.4 640.9,71.0 641.8,75.0 C642.7,79.0 643.6,83.5 644.5,88.0 C645.4,92.5 646.0,95.9 647.1,101.7 C648.2,107.5 650.0,116.6 651.3,122.7 C652.6,128.8 653.9,134.5 654.8,138.5 C655.7,142.5 655.5,142.9 656.5,146.7 C657.5,150.5 659.3,156.8 660.7,161.4 C662.1,166.0 663.5,169.7 664.9,174.0 C666.3,178.3 668.1,182.9 669.3,187.1 C670.5,191.3 671.5,195.5 672.3,199.2 C673.1,202.9 673.5,206.2 673.9,209.2 C674.3,212.2 674.6,216.0 674.7,217.3" fill="none" stroke="#ff1a1a" stroke-width="1.3" stroke-linejoin="round" stroke-linecap="round"/>
<path d="M458.0,224.3 C458.5,224.2 459.8,223.9 461.0,223.6 C462.2,223.3 463.7,223.3 465.1,222.3 C466.5,221.3 468.1,219.8 469.5,217.5 C470.9,215.2 472.5,211.2 473.8,208.8 C475.1,206.4 476.2,204.4 477.4,203.0 C478.6,201.6 479.7,200.9 481.0,200.4 C482.3,199.9 483.7,199.7 485.4,199.8 C487.1,199.9 489.4,200.4 491.1,200.8 C492.8,201.2 494.4,201.9 495.5,202.3 C496.6,202.7 497.2,203.4 498.0,203.2 C498.8,203.0 499.7,202.1 500.5,201.2 C501.3,200.3 502.0,199.1 502.9,197.6 C503.8,196.1 504.6,194.0 505.7,191.9 C506.8,189.8 508.5,186.6 509.6,185.1 C510.7,183.6 511.4,183.4 512.5,183.0 C513.5,182.6 514.6,182.2 515.9,182.4 C517.2,182.6 518.6,182.7 520.1,184.0 C521.6,185.3 523.5,187.9 524.7,190.0 C526.0,192.1 526.7,194.9 527.6,196.7 C528.5,198.4 529.3,199.4 530.4,200.5 C531.5,201.6 532.6,202.6 534.2,203.3 C535.8,204.0 538.3,204.2 539.9,204.7 C541.5,205.2 542.4,205.2 543.7,206.2 C545.0,207.1 546.4,209.1 547.5,210.4 C548.6,211.7 549.5,212.8 550.5,214.0 C551.5,215.2 552.2,216.6 553.5,217.7 C554.8,218.8 556.5,220.3 558.3,220.6 C560.0,220.9 562.1,220.5 564.0,219.6 C565.9,218.7 567.8,216.6 569.7,214.9 C571.6,213.2 573.5,210.9 575.4,209.2 C577.3,207.4 579.4,205.5 581.1,204.4 C582.8,203.3 584.5,202.6 585.8,202.5 C587.1,202.4 587.8,204.4 588.8,204.0 C589.8,203.6 590.8,201.9 591.7,200.2 C592.7,198.4 593.5,194.3 594.5,193.5 C595.5,192.7 596.4,194.5 597.4,195.4 C598.4,196.3 599.4,199.5 600.2,199.2 C601.0,198.9 601.5,195.7 602.1,193.5 C602.7,191.3 603.4,188.0 604.0,185.9 C604.6,183.8 604.7,182.5 605.5,181.0 C606.3,179.5 607.4,178.6 608.6,177.0 C609.8,175.4 611.5,173.0 612.6,171.5 C613.7,170.0 614.4,169.7 615.4,168.0 C616.4,166.3 617.2,164.2 618.8,161.4 C620.4,158.6 623.0,154.2 625.1,150.9 C627.2,147.6 630.0,144.6 631.4,141.5 C632.8,138.4 632.8,134.3 633.5,132.1 C634.2,129.9 635.0,128.8 635.6,128.5 C636.2,128.2 636.8,129.8 637.3,130.0 C637.8,130.2 637.9,129.0 638.7,129.4 C639.5,129.8 640.9,131.2 641.9,132.5 C642.9,133.8 644.1,136.1 645.0,137.5 C645.9,138.9 646.6,138.8 647.5,141.0 C648.4,143.2 649.6,147.5 650.2,150.9 C650.8,154.3 650.4,157.9 651.3,161.4 C652.2,164.9 654.1,168.4 655.5,171.9 C656.9,175.4 658.5,179.4 659.6,182.3 C660.7,185.2 660.9,185.3 662.2,189.1 C663.5,192.9 665.7,200.2 667.2,205.2 C668.7,210.2 670.1,216.1 671.3,219.3 C672.5,222.5 673.8,223.5 674.3,224.3" fill="none" stroke="#202020" stroke-width="1.3" stroke-linejoin="round" stroke-linecap="round"/>
</svg>
</body></html>
